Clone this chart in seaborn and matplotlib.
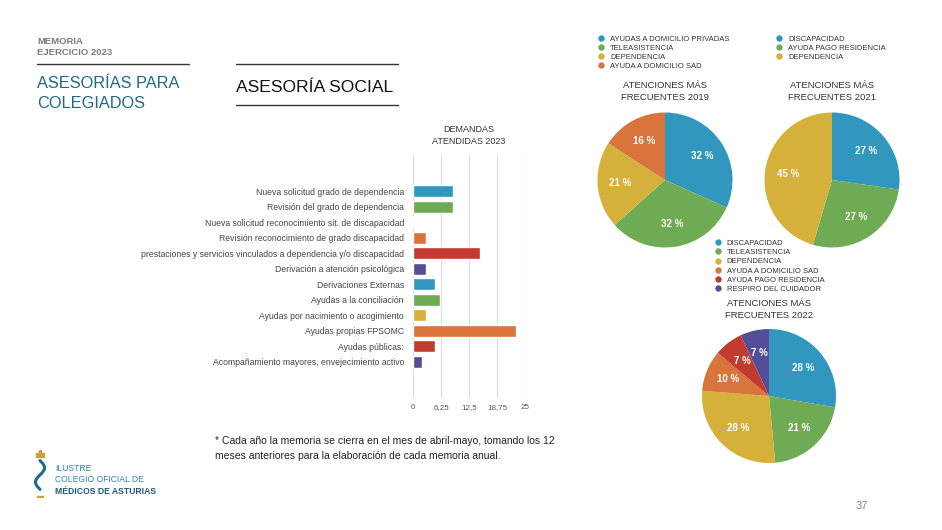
import matplotlib
matplotlib.use("Agg")
import matplotlib.pyplot as plt
from matplotlib.lines import Line2D
import seaborn as sns
import pandas as pd
import numpy as np

# ---------------- data ----------------
bar_categories = [
    "Nueva solicitud grado de dependencia",
    "Revisión del grado de dependencia",
    "Nueva solicitud reconocimiento sit. de discapacidad",
    "Revisión reconocimiento de grado discapacidad",
    "prestaciones y servicios vinculados a dependencia y/o discapacidad",
    "Derivación a atención psicológica",
    "Derivaciones Externas",
    "Ayudas a la conciliación",
    "Ayudas por nacimiento o acogimiento",
    "Ayudas propias FPSOMC",
    "Ayudas públicas:",
    "Acompañamiento mayores, envejecimiento activo",
]
bar_values = [9, 9, 0, 3, 15, 3, 5, 6, 3, 23, 5, 2]
bar_ticks = [0, 6.25, 12.5, 18.75, 25]
bar_tick_labels = ["0", "6,25", "12,5", "18,75", "25"]

pie2019_labels = ["AYUDAS A DOMICILIO PRIVADAS", "TELEASISTENCIA", "DEPENDENCIA", "AYUDA A DOMICILIO SAD"]
pie2019_values = [32, 32, 21, 16]
pie2021_labels = ["DISCAPACIDAD", "AYUDA PAGO RESIDENCIA", "DEPENDENCIA"]
pie2021_values = [27, 27, 45]
pie2022_labels = ["DISCAPACIDAD", "TELEASISTENCIA", "DEPENDENCIA", "AYUDA A DOMICILIO SAD",
                  "AYUDA PAGO RESIDENCIA", "RESPIRO DEL CUIDADOR"]
pie2022_values = [28, 21, 28, 10, 7, 7]

BLUE, GREEN, YELLOW, ORANGE, RED, PURPLE = "#3197BF", "#6FAA55", "#D5B03A", "#D8743C", "#C23B2E", "#544E98"
bar_cycle = [BLUE, GREEN, YELLOW, ORANGE, RED, PURPLE]
pie2019_colors = [BLUE, GREEN, YELLOW, ORANGE]
pie2021_colors = [BLUE, GREEN, YELLOW]
pie2022_colors = [BLUE, GREEN, YELLOW, ORANGE, RED, PURPLE]

# ---------------- figure ----------------
sns.set_theme(style="white")
plt.rcParams["font.family"] = ["Liberation Sans", "DejaVu Sans"]

W, H = 942, 530
fig = plt.figure(figsize=(W / 100, H / 100), dpi=100)
fig.patch.set_facecolor("white")


def px_axes(x0, y0, w, h):
    """x0,y0 = top-left in pixel coords"""
    return fig.add_axes([x0 / W, 1 - (y0 + h) / H, w / W, h / H])


def ftext(x, y, s, **kw):
    fig.text(x / W, 1 - y / H, s, **kw)


def hline(x0, x1, y, color="#333333", lw=1.0):
    fig.add_artist(Line2D([x0 / W, x1 / W], [1 - y / H, 1 - y / H], color=color, lw=lw,
                          transform=fig.transFigure))


# ---------------- header ----------------
ftext(37, 44.5, "MEMORIA", fontsize=6.8, fontweight="bold", color="#7a7a7a", va="baseline")
ftext(37, 55, "EJERCICIO 2023", fontsize=6.8, fontweight="bold", color="#7a7a7a", va="baseline")
hline(37, 189, 64)
ftext(37, 84, "ASESORÍAS PARA", fontsize=11.8, color="#1E6A86", va="center")
ftext(37, 104, "COLEGIADOS", fontsize=11.8, color="#1E6A86", va="center")
hline(236, 398, 64)
ftext(236, 87, "ASESORÍA SOCIAL", fontsize=12.6, color="#111111", va="center")
hline(236, 398, 105)

# ---------------- bar chart ----------------
ax = px_axes(413, 155, 112, 243)
df = pd.DataFrame({"cat": bar_categories, "val": bar_values})
palette = [bar_cycle[i % len(bar_cycle)] for i in range(len(bar_categories))]
sns.barplot(data=df, x="val", y="cat", hue="cat", palette=palette, legend=False,
            orient="h", width=0.78, saturation=1, ax=ax)
ax.set_xlim(0, 25)
ax.set_ylim(len(bar_categories) - 1 + 2.35, -2.35)
ax.set_xticks(bar_ticks)
ax.set_xticklabels(bar_tick_labels, fontsize=5.8, color="#555555")
ax.set_yticks(range(len(bar_categories)))
ax.set_yticklabels(bar_categories, fontsize=6.25, color="#444444")
ax.tick_params(axis="y", length=0, pad=6.5)
ax.tick_params(axis="x", length=0, pad=4)
ax.set_xlabel("")
ax.set_ylabel("")
ax.xaxis.grid(True, color="#dddddd", lw=0.8)
ax.set_axisbelow(True)
for sp in ax.spines.values():
    sp.set_visible(False)
ax.set_facecolor("none")
ftext(469, 130, "DEMANDAS", fontsize=6.5, color="#333333", ha="center", va="center")
ftext(469, 141, "ATENDIDAS 2023", fontsize=6.5, color="#333333", ha="center", va="center")


# ---------------- pies ----------------
def draw_pie(cx, cy, r, values, colors):
    a = px_axes(cx - r, cy - r, 2 * r, 2 * r)
    total = sum(values)
    a.pie(values, colors=colors, startangle=90, counterclock=False, radius=1,
          autopct=lambda p: f"{round(p * total / 100)} %", pctdistance=0.66,
          textprops=dict(color="white", fontsize=7, fontweight="bold"),
          wedgeprops=dict(linewidth=0))
    a.set_xlim(-1, 1)
    a.set_ylim(-1, 1)
    a.set_aspect("equal")
    a.axis("off")


def draw_legend(x, y, labels, colors, spacing):
    handles = [Line2D([0], [0], marker="o", linestyle="", markersize=4.6,
                      markerfacecolor=c, markeredgewidth=0) for c in colors]
    leg = fig.legend(handles=handles, labels=labels, loc="upper left",
                     bbox_to_anchor=(x / W, 1 - y / H), frameon=False, fontsize=5.5,
                     borderpad=0, borderaxespad=0, handlelength=0.9, handletextpad=0.75,
                     labelspacing=spacing)
    for t in leg.get_texts():
        t.set_color("#333333")


draw_pie(665, 180, 67.5, pie2019_values, pie2019_colors)
draw_pie(832, 180, 67.5, pie2021_values, pie2021_colors)
draw_pie(769, 396, 67, pie2022_values, pie2022_colors)

draw_legend(597.5, 35.5, pie2019_labels, pie2019_colors, 0.22)
draw_legend(775.5, 35.5, pie2021_labels, pie2021_colors, 0.22)
draw_legend(714.2, 239.5, pie2022_labels, pie2022_colors, 0.25)

for cx, y1, yr in [(665, 86, "2019"), (832, 86, "2021"), (769, 304, "2022")]:
    ftext(cx, y1, "ATENCIONES MÁS", fontsize=6.8, color="#333333", ha="center", va="center")
    ftext(cx, y1 + 12, f"FRECUENTES {yr}", fontsize=6.8, color="#333333", ha="center", va="center")

# ---------------- footnote & footer ----------------
ftext(215, 441, "* Cada año la memoria se cierra en el mes de abril-mayo, tomando los 12",
      fontsize=7.5, color="#222222", va="center")
ftext(215, 456, "meses anteriores para la elaboración de cada memoria anual.",
      fontsize=7.5, color="#222222", va="center")

ftext(55, 471, "ILUSTRE", fontsize=6.2, color="#2D86AA", va="baseline")
ftext(55, 482, "COLEGIO OFICIAL DE", fontsize=6.2, color="#2D86AA", va="baseline")
ftext(55, 494, "MÉDICOS DE ASTURIAS", fontsize=6.2, fontweight="bold", color="#1D5A78", va="baseline")
# simple logo mark
lax = px_axes(31, 450, 18, 48)
lax.axis("off")
lax.set_xlim(0, 1)
lax.set_ylim(0, 1)
lax.add_patch(plt.Rectangle((0.3, 0.86), 0.4, 0.08, color="#C9A23A"))
lax.add_patch(plt.Rectangle((0.42, 0.93), 0.16, 0.06, color="#C9A23A"))
tt = np.linspace(0, 1, 50)
lax.plot(0.5 + 0.25 * np.sin(tt * 2 * np.pi), 0.78 - 0.6 * tt, color="#1E6A86", lw=2.2,
         solid_capstyle="round")
lax.add_patch(plt.Rectangle((0.35, 0.0), 0.3, 0.05, color="#C9A23A"))

ftext(862, 506, "37", fontsize=8, color="#888888", ha="center", va="center")

fig.savefig("out.png", dpi=100, facecolor="white")
